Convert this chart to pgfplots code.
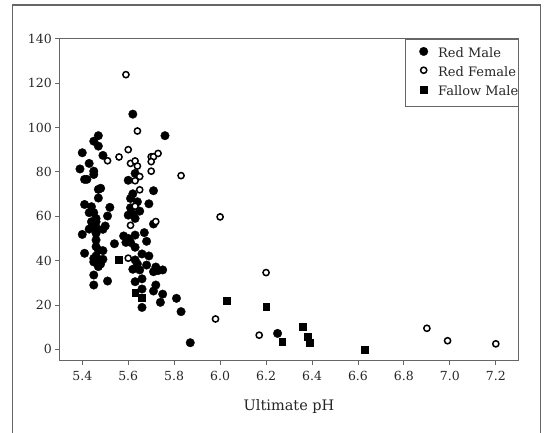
\documentclass[border=0pt]{standalone}
\usepackage{fontspec}
\setmainfont{DejaVu Serif}
\usepackage{pgfplots}
\pgfplotsset{compat=1.18}

\begin{document}
\begin{tikzpicture}[x=1pt,y=1pt]
\path[use as bounding box] (0,0) rectangle (550,433);
% outer frame (open at the bottom)
\draw[black!60, line width=1.3pt] (12.3,-2) -- (12.3,428) -- (540.7,428) -- (540.7,-2);
\begin{axis}[
    at={(59.3pt,72.3pt)}, anchor=south west,
    scale only axis, width=459.5pt, height=322pt,
    xmin=5.3, xmax=7.3, ymin=-5.1, ymax=140,
    xtick={5.4,5.6,5.8,6.0,6.2,6.4,6.6,6.8,7.0,7.2},
    ytick={0,20,40,60,80,100,120,140},
    tick pos=left, tick align=outside,
    major tick length=4pt,
    axis line style={black!60, line width=0.9pt},
    every tick/.style={black!60, line width=0.9pt},
    /pgf/number format/assume math mode=true,
    tick label style={font=\fontsize{12.5}{14}\selectfont, text=black!85},
    xticklabel style={yshift=-3pt, /pgf/number format/.cd, fixed, fixed zerofill, precision=1},
    xlabel={Ultimate pH},
    xlabel style={yshift=-12pt, font=\fontsize{14.5}{16}\selectfont, text=black!85},
    legend style={at={(rel axis cs:1,1)}, anchor=north east,
        draw=black!60, line width=0.9pt, inner xsep=0pt, inner ysep=8pt,
        row sep=6.7pt,
        nodes={inner sep=0pt, text height=9pt, text depth=3pt,
               font=\fontsize{13}{15}\selectfont, text=black!85}},
    legend cell align=left,
    legend image code/.code={
        \path (0pt,-3pt) (31.7pt,3pt);
        \draw[#1] plot coordinates {(17.7pt,3pt)};
    },
]
% Red Male
\addplot[only marks, mark=*, mark size=4.3pt,
    mark options={draw=black, fill=black, line width=0.3pt}] coordinates {
(5.39,81.3) (5.40,88.6) (5.43,83.8) (5.41,76.6) (5.42,76.6)
(5.45,93.8) (5.47,96.3) (5.47,91.6) (5.49,87.4) (5.45,80.3)
(5.45,78.8) (5.47,72.1) (5.48,72.6) (5.47,68.2) (5.41,65.3)
(5.44,64.3) (5.43,61.6) (5.45,61.6) (5.46,59.0) (5.44,57.5)
(5.46,57.5) (5.52,64.0) (5.51,60.1) (5.50,55.6) (5.49,54.1)
(5.43,54.2) (5.40,51.8) (5.46,52.3) (5.46,49.3) (5.46,46.3)
(5.47,44.8) (5.49,44.5) (5.41,43.3) (5.46,42.1) (5.47,40.3)
(5.49,40.6) (5.45,39.4) (5.47,37.3) (5.45,33.5) (5.45,29.0)
(5.51,30.8) (5.54,47.6) (5.44,62.5) (5.46,55.0) (5.45,41.0)
(5.48,38.5)
(5.62,106.0) (5.76,96.3) (5.60,76.2) (5.63,79.3) (5.62,70.1)
(5.61,68.0) (5.61,63.8) (5.65,62.3) (5.71,71.5) (5.69,65.6)
(5.60,60.5) (5.63,59.0) (5.58,51.1) (5.59,48.2) (5.61,48.2)
(5.63,51.5) (5.63,46.0) (5.67,52.6) (5.68,48.7) (5.71,56.5)
(5.66,43.0) (5.69,42.1) (5.63,40.3) (5.68,38.0) (5.62,36.1)
(5.65,35.8) (5.72,37.1) (5.71,35.0) (5.73,35.5) (5.75,35.8)
(5.66,31.8) (5.63,30.5) (5.72,29.0) (5.66,27.2) (5.71,26.3)
(5.75,24.9) (5.74,21.2) (5.66,18.9) (5.81,23.0) (5.83,17.0)
(5.87,3.0) (6.25,7.2) (5.64,66.5) (5.62,61.0) (5.64,38.5)
(5.60,50.0)
};
\addlegendentry{Red Male}
% Red Female
\addplot[only marks, mark=*, mark size=3.1pt,
    mark options={draw=black, fill=white, line width=1.5pt}] coordinates {
(5.59,123.8) (5.64,98.4) (5.60,90.0) (5.56,86.7) (5.51,85.0)
(5.61,83.8) (5.63,84.9) (5.64,82.6) (5.70,86.8) (5.71,86.8)
(5.70,84.6) (5.73,88.3) (5.70,80.3) (5.65,77.9) (5.63,76.0)
(5.65,71.9) (5.83,78.3) (5.61,55.9) (5.72,57.6) (5.60,41.1)
(5.63,64.5) (6.00,59.7) (6.20,34.6) (5.98,13.7) (6.17,6.4)
(6.90,9.5) (6.99,3.9) (7.20,2.5)
};
\addlegendentry{Red Female}
% Fallow Male
\addplot[only marks, mark=square*, mark size=3.4pt,
    mark options={draw=black, fill=black, line width=0.3pt}] coordinates {
(5.56,40.3) (5.63,25.7) (5.66,23.3) (6.03,21.8) (6.20,19.2)
(6.36,10.1) (6.38,5.7) (6.39,2.9) (6.27,3.5) (6.63,0.0)
};
\addlegendentry{Fallow Male}
\end{axis}
\end{tikzpicture}
\end{document}
